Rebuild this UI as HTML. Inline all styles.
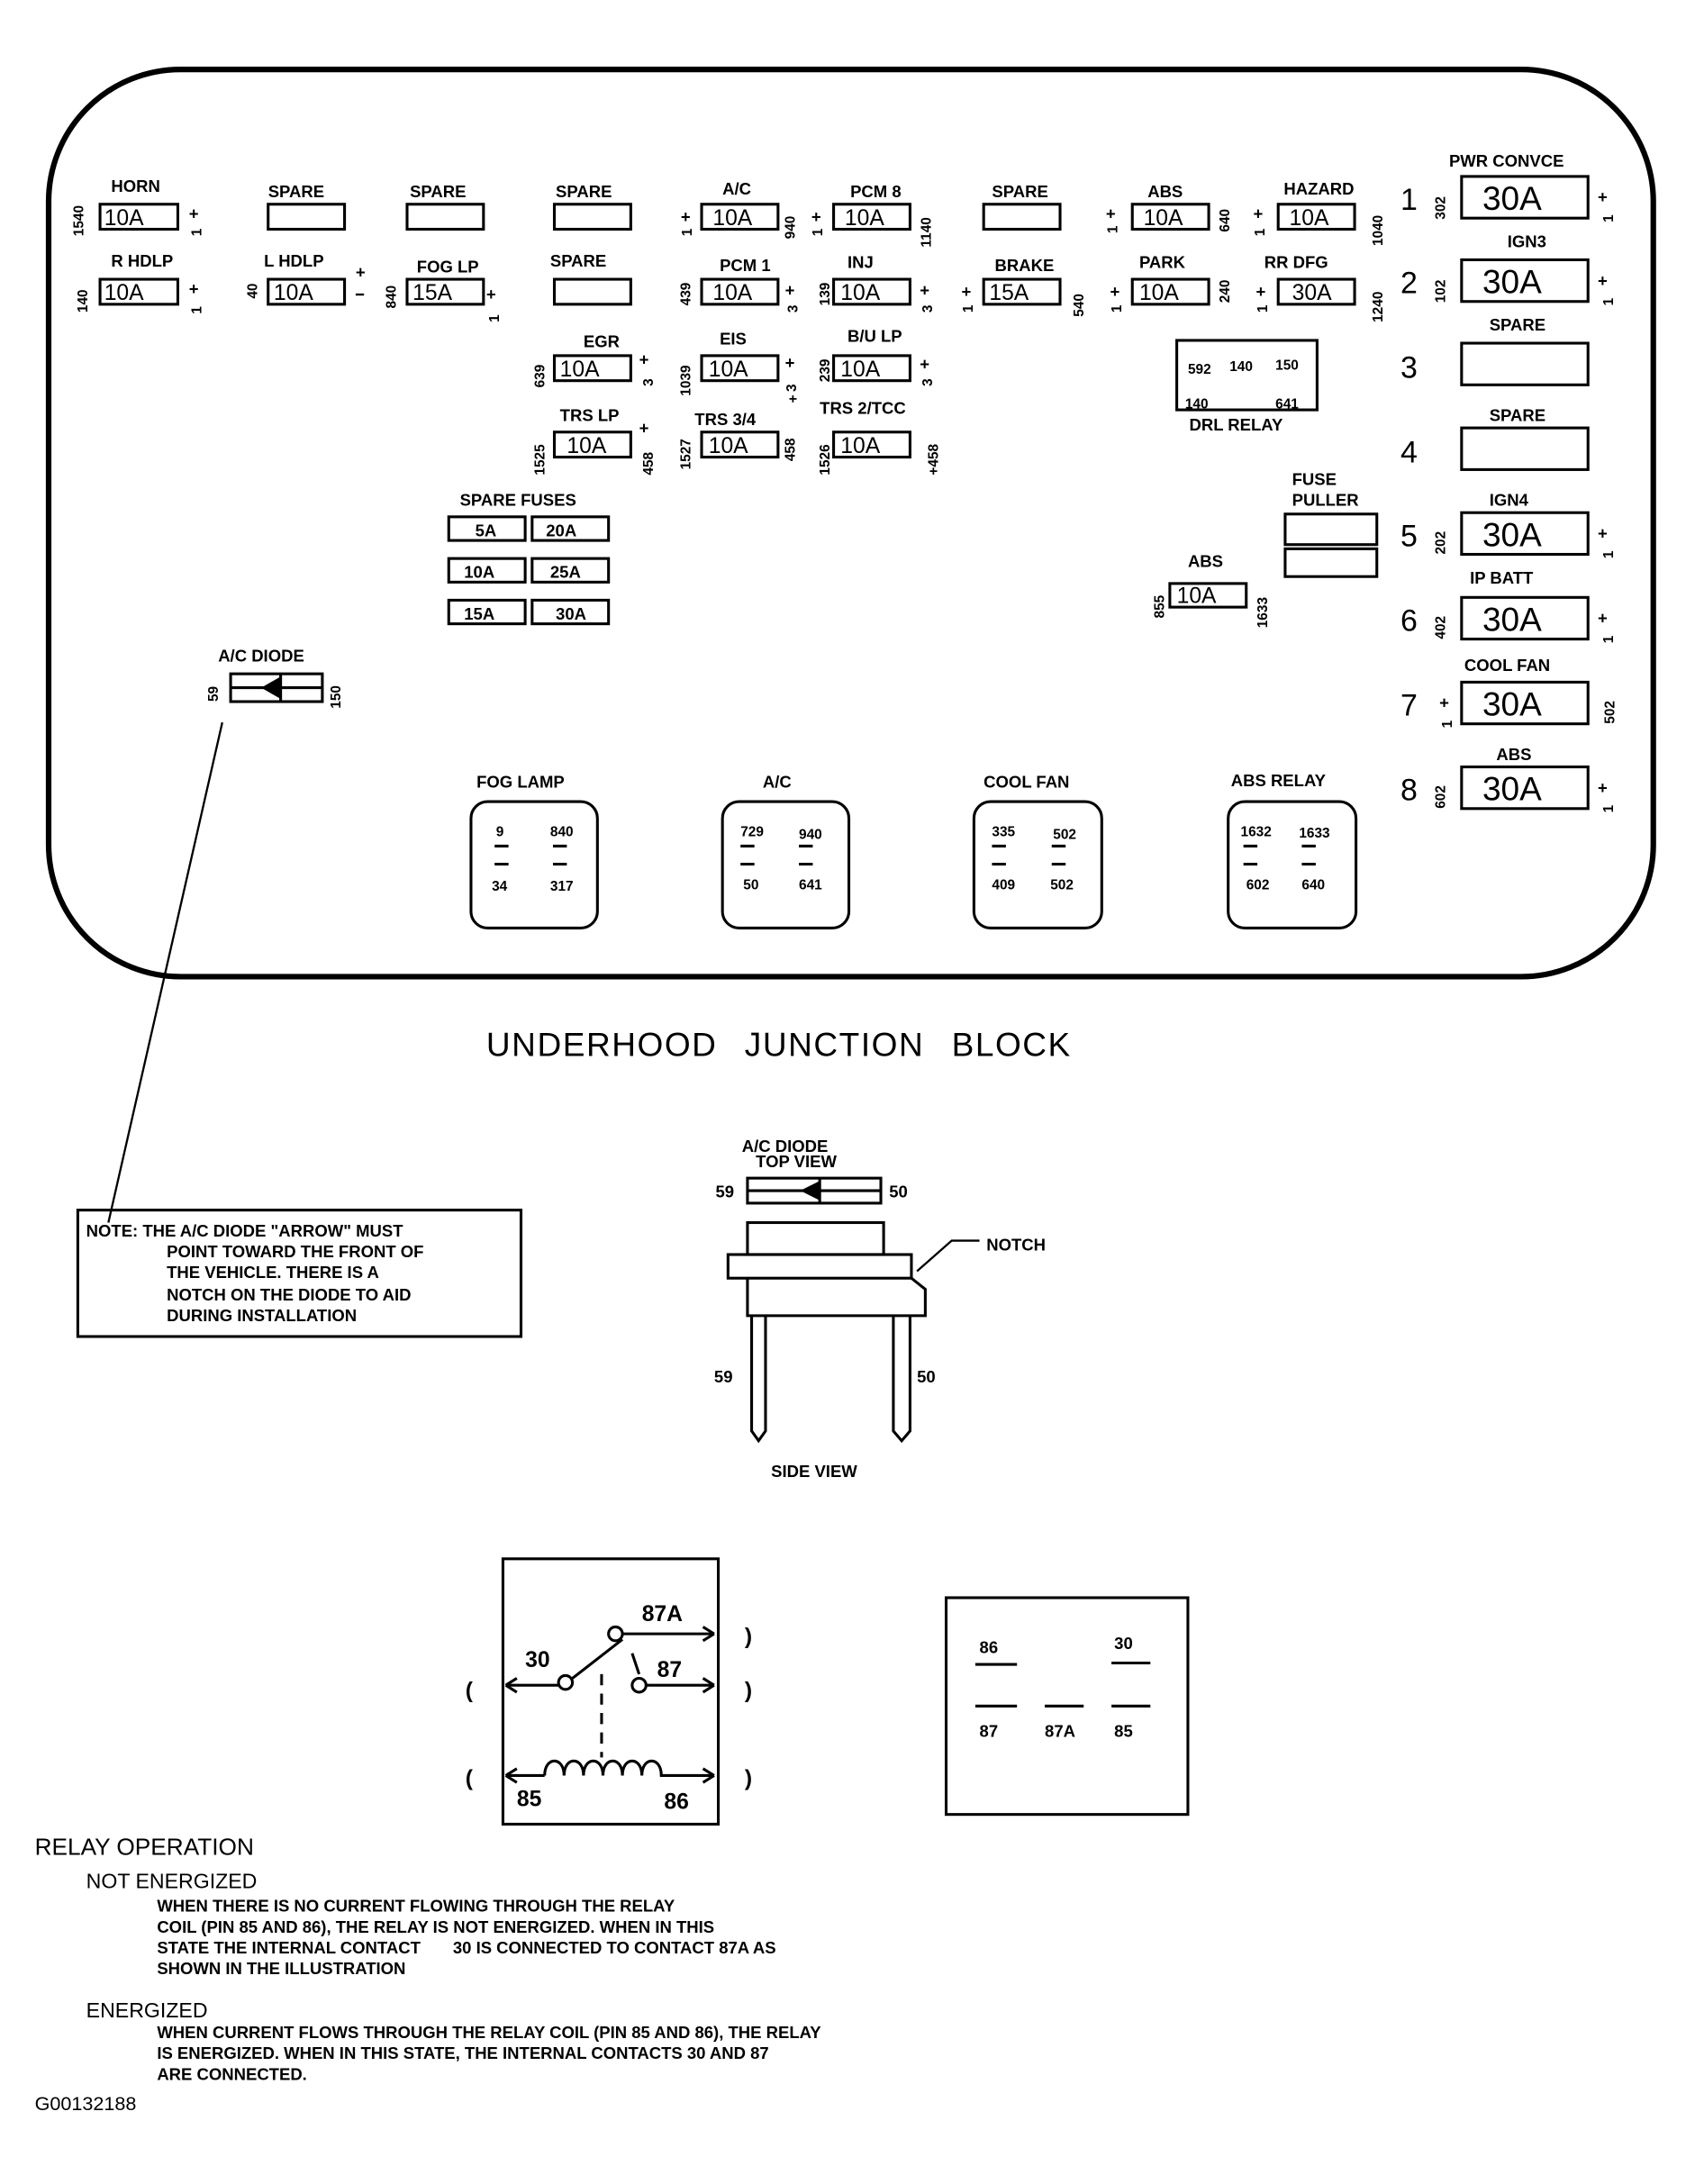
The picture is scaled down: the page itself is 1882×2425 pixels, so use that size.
<!DOCTYPE html>
<html><head><meta charset="utf-8"><style>
html,body{margin:0;padding:0;background:#fff}
svg{display:block}
text{font-family:"Liberation Sans",sans-serif;font-weight:bold;fill:#000}
.l{font-size:12px}
.f{font-size:16px;font-weight:normal}
.b{font-size:24px;font-weight:normal}
.s{font-size:10px}
rect{fill:none;stroke:#000;stroke-width:2}
line,path,polyline{stroke:#000;stroke-width:2;fill:none}
</style></head><body>
<svg width="1882" height="2425" viewBox="0 0 1220 1572" xmlns="http://www.w3.org/2000/svg">
<rect x="35" y="50" width="1155" height="653" rx="95" style="stroke-width:4"/>

<g class="l">
<text x="80" y="138">HORN</text><rect x="72" y="147" width="56" height="18"/><text class="f" x="75" y="162">10A</text>
<text x="193" y="142">SPARE</text><rect x="193" y="147" width="55" height="18"/>
<text x="295" y="142">SPARE</text><rect x="293" y="147" width="55" height="18"/>
<text x="400" y="142">SPARE</text><rect x="399" y="147" width="55" height="18"/>
<text x="520" y="140">A/C</text><rect x="505" y="147" width="55" height="18"/><text class="f" x="513" y="162">10A</text>
<text x="612" y="142">PCM 8</text><rect x="600" y="147" width="55" height="18"/><text class="f" x="608" y="162">10A</text>
<text x="714" y="142">SPARE</text><rect x="708" y="147" width="55" height="18"/>
<text x="826" y="142">ABS</text><rect x="815" y="147" width="55" height="18"/><text class="f" x="823" y="162">10A</text>
<text x="924" y="140">HAZARD</text><rect x="920" y="147" width="55" height="18"/><text class="f" x="928" y="162">10A</text>

<text x="80" y="192">R HDLP</text><rect x="72" y="201" width="56" height="18"/><text class="f" x="75" y="216">10A</text>
<text x="190" y="192">L HDLP</text><rect x="193" y="201" width="55" height="18"/><text class="f" x="197" y="216">10A</text>
<text x="300" y="196">FOG LP</text><rect x="293" y="201" width="55" height="18"/><text class="f" x="297" y="216">15A</text>
<text x="396" y="192">SPARE</text><rect x="399" y="201" width="55" height="18"/>
<text x="518" y="195">PCM 1</text><rect x="505" y="201" width="55" height="18"/><text class="f" x="513" y="216">10A</text>
<text x="610" y="193">INJ</text><rect x="600" y="201" width="55" height="18"/><text class="f" x="605" y="216">10A</text>
<text x="716" y="195">BRAKE</text><rect x="708" y="201" width="55" height="18"/><text class="f" x="712" y="216">15A</text>
<text x="820" y="193">PARK</text><rect x="815" y="201" width="55" height="18"/><text class="f" x="820" y="216">10A</text>
<text x="910" y="193">RR DFG</text><rect x="920" y="201" width="55" height="18"/><text class="f" x="930" y="216">30A</text>

<text x="420" y="250">EGR</text><rect x="399" y="256" width="55" height="18"/><text class="f" x="403" y="271">10A</text>
<text x="518" y="248">EIS</text><rect x="505" y="256" width="55" height="18"/><text class="f" x="510" y="271">10A</text>
<text x="610" y="246">B/U LP</text><rect x="600" y="256" width="55" height="18"/><text class="f" x="605" y="271">10A</text>

<text x="403" y="303">TRS LP</text><rect x="399" y="311" width="55" height="18"/><text class="f" x="408" y="326">10A</text>
<text x="500" y="306">TRS 3/4</text><rect x="505" y="311" width="55" height="18"/><text class="f" x="510" y="326">10A</text>
<text x="590" y="298">TRS 2/TCC</text><rect x="600" y="311" width="55" height="18"/><text class="f" x="605" y="326">10A</text>

<text x="331" y="364">SPARE FUSES</text>
<rect x="323" y="372" width="55" height="17"/><text x="342" y="386">5A</text>
<rect x="383" y="372" width="55" height="17"/><text x="393" y="386">20A</text>
<rect x="323" y="402" width="55" height="17"/><text x="334" y="416">10A</text>
<rect x="383" y="402" width="55" height="17"/><text x="396" y="416">25A</text>
<rect x="323" y="432" width="55" height="17"/><text x="334" y="446">15A</text>
<rect x="383" y="432" width="55" height="17"/><text x="400" y="446">30A</text>

<rect x="847" y="245" width="101" height="50"/>
<text class="s" x="855" y="269">592</text><text class="s" x="885" y="267">140</text><text class="s" x="918" y="266">150</text>
<text class="s" x="853" y="294">140</text><text class="s" x="918" y="294">641</text>
<text x="856" y="310">DRL RELAY</text>

<text x="930" y="349">FUSE</text><text x="930" y="364">PULLER</text>
<rect x="925" y="370" width="66" height="22"/><rect x="925" y="395" width="66" height="20"/>
<text x="855" y="408">ABS</text><rect x="842" y="420" width="55" height="17"/><text class="f" x="847" y="434">10A</text>

<g class="s">
<text transform="translate(60,170) rotate(-90)">1540</text>
<text transform="translate(63,225) rotate(-90)">140</text>
<text transform="translate(185,215) rotate(-90)">40</text>
<text transform="translate(285,222) rotate(-90)">840</text>
<text transform="translate(572,172) rotate(-90)">940</text>
<text transform="translate(670,178) rotate(-90)">1140</text>
<text transform="translate(885,167) rotate(-90)">640</text>
<text transform="translate(995,177) rotate(-90)">1040</text>
<text transform="translate(497,220) rotate(-90)">439</text>
<text transform="translate(597,220) rotate(-90)">139</text>
<text transform="translate(780,228) rotate(-90)">540</text>
<text transform="translate(885,218) rotate(-90)">240</text>
<text transform="translate(995,232) rotate(-90)">1240</text>
<text transform="translate(392,279) rotate(-90)">639</text>
<text transform="translate(497,285) rotate(-90)">1039</text>
<text transform="translate(597,275) rotate(-90)">239</text>
<text transform="translate(392,342) rotate(-90)">1525</text>
<text transform="translate(470,342) rotate(-90)">458</text>
<text transform="translate(497,338) rotate(-90)">1527</text>
<text transform="translate(572,332) rotate(-90)">458</text>
<text transform="translate(597,342) rotate(-90)">1526</text>
<text transform="translate(675,342) rotate(-90)">+458</text>
<text transform="translate(838,445) rotate(-90)">855</text>
<text transform="translate(912,452) rotate(-90)">1633</text>
<text transform="translate(157,505) rotate(-90)">59</text>
<text transform="translate(245,510) rotate(-90)">150</text>
<text transform="translate(1040,158) rotate(-90)">302</text>
<text transform="translate(1040,218) rotate(-90)">102</text>
<text transform="translate(1040,399) rotate(-90)">202</text>
<text transform="translate(1040,460) rotate(-90)">402</text>
<text transform="translate(1162,521) rotate(-90)">502</text>
<text transform="translate(1040,582) rotate(-90)">602</text>
<text transform="translate(145,170) rotate(-90)">1</text>
<text transform="translate(145,226) rotate(-90)">1</text>
<text transform="translate(359,232) rotate(-90)">1</text>
<text transform="translate(498,170) rotate(-90)">1</text>
<text transform="translate(592,170) rotate(-90)">1</text>
<text transform="translate(804,168) rotate(-90)">1</text>
<text transform="translate(910,170) rotate(-90)">1</text>
<text transform="translate(574,225) rotate(-90)">3</text>
<text transform="translate(671,225) rotate(-90)">3</text>
<text transform="translate(700,225) rotate(-90)">1</text>
<text transform="translate(807,225) rotate(-90)">1</text>
<text transform="translate(912,225) rotate(-90)">1</text>
<text transform="translate(470,278) rotate(-90)">3</text>
<text transform="translate(573,282) rotate(-90)">3</text>
<text transform="translate(671,278) rotate(-90)">3</text>
<text transform="translate(574,290) rotate(-90)">+</text>
<text transform="translate(1161,160) rotate(-90)">1</text>
<text transform="translate(1161,220) rotate(-90)">1</text>
<text transform="translate(1161,402) rotate(-90)">1</text>
<text transform="translate(1161,463) rotate(-90)">1</text>
<text transform="translate(1045,524) rotate(-90)">1</text>
<text transform="translate(1161,585) rotate(-90)">1</text>
</g>
<line x1="256" y1="212" x2="262" y2="212" style="stroke-width:1.5"/>
<g class="l">
<text x="136" y="158">+</text><text x="136" y="212">+</text><text x="256" y="200">+</text><text x="350" y="216">+</text>
<text x="490" y="160">+</text><text x="584" y="160">+</text><text x="796" y="158">+</text><text x="902" y="158">+</text>
<text x="565" y="213">+</text><text x="662" y="213">+</text><text x="692" y="214">+</text><text x="799" y="214">+</text><text x="904" y="214">+</text>
<text x="460" y="263">+</text><text x="565" y="265">+</text><text x="662" y="266">+</text>
<text x="460" y="312">+</text>
<text x="1150" y="146">+</text><text x="1150" y="206">+</text><text x="1150" y="388">+</text><text x="1150" y="449">+</text><text x="1036" y="510">+</text><text x="1150" y="571">+</text>
</g>
</g>

<g>
<text class="l" x="1043" y="120">PWR CONVCE</text><rect x="1052" y="127" width="91" height="30"/><text class="b" x="1067" y="151">30A</text>
<text class="l" x="1085" y="178">IGN3</text><rect x="1052" y="187" width="91" height="30"/><text class="b" x="1067" y="211">30A</text>
<text class="l" x="1072" y="238">SPARE</text><rect x="1052" y="247" width="91" height="30"/>
<text class="l" x="1072" y="303">SPARE</text><rect x="1052" y="308" width="91" height="30"/>
<text class="l" x="1072" y="364">IGN4</text><rect x="1052" y="369" width="91" height="30"/><text class="b" x="1067" y="393">30A</text>
<text class="l" x="1058" y="420">IP BATT</text><rect x="1052" y="430" width="91" height="30"/><text class="b" x="1067" y="454">30A</text>
<text class="l" x="1054" y="483">COOL FAN</text><rect x="1052" y="491" width="91" height="30"/><text class="b" x="1067" y="515">30A</text>
<text class="l" x="1077" y="547">ABS</text><rect x="1052" y="552" width="91" height="30"/><text class="b" x="1067" y="576">30A</text>
<g style="font-size:22px;font-weight:normal">
<text x="1008" y="151" style="font-weight:normal">1</text><text x="1008" y="211" style="font-weight:normal">2</text><text x="1008" y="272" style="font-weight:normal">3</text><text x="1008" y="333" style="font-weight:normal">4</text>
<text x="1008" y="393" style="font-weight:normal">5</text><text x="1008" y="454" style="font-weight:normal">6</text><text x="1008" y="515" style="font-weight:normal">7</text><text x="1008" y="576" style="font-weight:normal">8</text>
</g>
</g>

<text class="l" x="157" y="476">A/C DIODE</text>
<rect x="166" y="485" width="66" height="20"/><line x1="166" y1="495" x2="232" y2="495"/><line x1="202" y1="485" x2="202" y2="505"/>
<polygon points="202,487 188,495 202,503" fill="#000"/>
<line x1="160" y1="520" x2="78" y2="880" style="stroke-width:1.5"/>

<g class="l">
<text x="343" y="567">FOG LAMP</text><rect x="339" y="577" width="91" height="91" rx="12"/>
<text x="549" y="567">A/C</text><rect x="520" y="577" width="91" height="91" rx="12"/>
<text x="708" y="567">COOL FAN</text><rect x="701" y="577" width="92" height="91" rx="12"/>
<text x="886" y="566">ABS RELAY</text><rect x="884" y="577" width="92" height="91" rx="12"/>
<g class="s">
<text x="357" y="602">9</text><text x="396" y="602">840</text><text x="354" y="641">34</text><text x="396" y="641">317</text>
<text x="533" y="602">729</text><text x="575" y="604">940</text><text x="535" y="640">50</text><text x="575" y="640">641</text>
<text x="714" y="602">335</text><text x="758" y="604">502</text><text x="714" y="640">409</text><text x="756" y="640">502</text>
<text x="893" y="602">1632</text><text x="935" y="603">1633</text><text x="897" y="640">602</text><text x="937" y="640">640</text>
</g>
<path d="M356 609h10M398 609h10M356 622h10M398 622h10M533 609h10M575 609h10M533 622h10M575 622h10M714 609h10M757 609h10M714 622h10M757 622h10M895 609h10M937 609h10M895 622h10M937 622h10"/>
</g>

<text x="350" y="760" style="font-size:24px;font-weight:normal;letter-spacing:1px;word-spacing:12px">UNDERHOOD JUNCTION BLOCK</text>

<rect x="56" y="871" width="319" height="91"/>
<g class="l">
<text x="62" y="890">NOTE: THE A/C DIODE "ARROW" MUST</text>
<text x="120" y="905">POINT TOWARD THE FRONT OF</text>
<text x="120" y="920">THE VEHICLE. THERE IS A</text>
<text x="120" y="936">NOTCH ON THE DIODE TO AID</text>
<text x="120" y="951">DURING INSTALLATION</text>
</g>

<g class="l">
<text x="534" y="829">A/C DIODE</text><text x="544" y="840">TOP VIEW</text>
<text x="515" y="862">59</text><text x="640" y="862">50</text>
<rect x="538" y="848" width="96" height="18"/><line x1="538" y1="857" x2="634" y2="857"/><line x1="590" y1="848" x2="590" y2="866"/>
<polygon points="590,850 576,857 590,864" fill="#000"/>
<rect x="538" y="880" width="98" height="23"/>
<rect x="524" y="903" width="132" height="17"/>
<path d="M538 920V947H666V928L656 920"/>
<path d="M541 947V1030L546 1037L551 1030V947M643 947V1030L649 1037L655 1030V947"/>
<polyline points="660,915 685,893 705,893" style="stroke-width:1.5"/>
<text x="710" y="900">NOTCH</text>
<text x="514" y="995">59</text><text x="660" y="995">50</text>
<text x="555" y="1063">SIDE VIEW</text>
</g>

<rect x="362" y="1122" width="155" height="191"/>
<g style="font-size:16px;font-weight:normal">
<text x="462" y="1167">87A</text>
<text x="378" y="1200">30</text><text x="473" y="1207">87</text>
<text x="372" y="1300">85</text><text x="478" y="1302">86</text>
<text x="536" y="1183">)</text><text x="536" y="1222">)</text><text x="536" y="1285">)</text>
<text x="335" y="1222">(</text><text x="335" y="1285">(</text>
</g>
<circle cx="407" cy="1211" r="5" fill="none" stroke="#000" stroke-width="2"/>
<circle cx="443" cy="1176" r="5" fill="none" stroke="#000" stroke-width="2"/>
<circle cx="460" cy="1213" r="5" fill="none" stroke="#000" stroke-width="2"/>
<path d="M412 1208L448 1180M448 1176H514M465 1213H514M364 1213H402M455 1190L460 1205"/>
<path d="M433 1205V1265" style="stroke-dasharray:8 6"/>
<path d="M364 1278H392M475 1278H514"/>
<path d="M392 1278c0-14 14-14 14 0c0-14 14-14 14 0c0-14 14-14 14 0c0-14 14-14 14 0c0-14 14-14 14 0c0-14 14-14 14 0"/>
<path d="M364 1213l8-5M364 1213l8 5M514 1176l-8-5M514 1176l-8 5M514 1213l-8-5M514 1213l-8 5M364 1278l8-5M364 1278l8 5M514 1278l-8-5M514 1278l-8 5"/>

<rect x="681" y="1150" width="174" height="156"/>
<g class="l">
<text x="705" y="1190">86</text><text x="802" y="1187">30</text>
<text x="705" y="1250">87</text><text x="752" y="1250">87A</text><text x="802" y="1250">85</text>
</g>
<path d="M702 1198h30M800 1197h28M702 1228h30M752 1228h28M800 1228h28"/>

<g style="font-weight:normal">
<text x="25" y="1335" style="font-size:17px;font-weight:normal">RELAY OPERATION</text>
<text x="62" y="1359" style="font-size:15px;font-weight:normal">NOT ENERGIZED</text>
<g class="l">
<text x="113" y="1376">WHEN THERE IS NO CURRENT FLOWING THROUGH THE RELAY</text>
<text x="113" y="1391">COIL (PIN 85 AND 86), THE RELAY IS NOT ENERGIZED.  WHEN IN THIS</text>
<text x="113" y="1406" xml:space="preserve">STATE THE INTERNAL CONTACT       30 IS CONNECTED TO CONTACT 87A AS</text>
<text x="113" y="1421">SHOWN IN THE ILLUSTRATION</text>
</g>
<text x="62" y="1452" style="font-size:15px;font-weight:normal">ENERGIZED</text>
<g class="l">
<text x="113" y="1467">WHEN CURRENT FLOWS THROUGH THE RELAY COIL (PIN 85 AND 86), THE RELAY</text>
<text x="113" y="1482">IS ENERGIZED.  WHEN IN THIS STATE, THE INTERNAL CONTACTS 30 AND 87</text>
<text x="113" y="1497">ARE CONNECTED.</text>
</g>
<text x="25" y="1519" style="font-size:14px;font-weight:normal">G00132188</text>
</g>
</svg>
</body></html>
